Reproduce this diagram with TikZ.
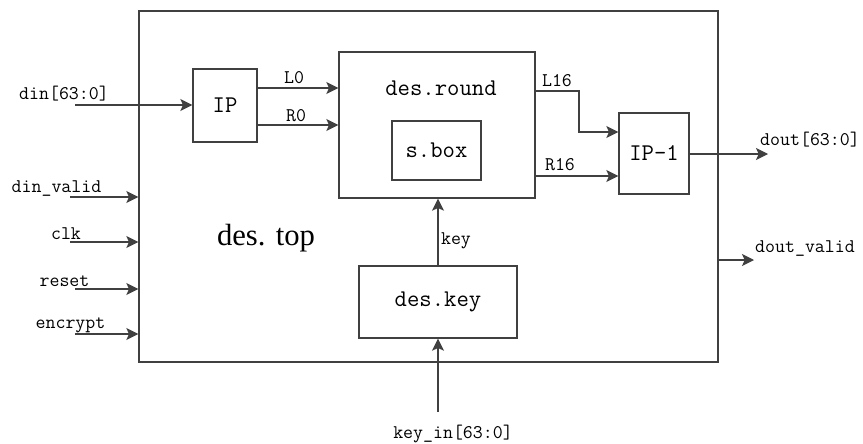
\documentclass[tikz,border=0pt]{standalone}
\usepackage{fontspec}
\setmainfont{Liberation Serif}
\usetikzlibrary{positioning,calc,arrows.meta}
\tikzset{block layout/.style={%
    y=-0.75pt,
    x=0.75pt,
    every node/.style={%
        text=black, inner sep=0pt
    },
    every path/.style={%
        black!75, line width=1pt
    }
}}
\tikzset{unit/.style={%
    draw, rectangle, font=\ttfamily\fontsize{18}{20}\selectfont
}}
\tikzset{unit text/.style={%
    font=\ttfamily\fontsize{18}{20}\selectfont
}}
\tikzset{sig text/.style={%
    anchor=base, font=\ttfamily\fontsize{14.5}{16}\selectfont
}}
\tikzset{sig/.style={%
    -{Stealth[length=9pt,width=9pt,inset=2pt]}
}}

\begin{document}
\begin{tikzpicture}[block layout]
    \useasboundingbox (0,0) rectangle (863,443);

    \node[unit, minimum width=434.25pt, minimum height=263.25pt] (top) at (428.5,186.5) {};
    \node[unit, minimum width=48pt, minimum height=54.75pt] (ip) at (225,105.5) {IP};
    \node[unit, minimum width=147pt, minimum height=109.5pt] (round) at (437,125) {};
    \node[unit, minimum width=66.75pt, minimum height=44.25pt] (sbox) at (436.5,150.5) {s.box};
    \node[unit, minimum width=52.5pt, minimum height=60.75pt] (ipinv) at (654,153.5) {IP-1};
    \node[unit, minimum width=118.5pt, minimum height=54pt] (key) at (438,302) {des.key};
    \node[unit text] (roundname) at (441,88) {des.round};
    \node[anchor=base, font=\rmfamily\fontsize{23}{26}\selectfont] (topname) at (266,245) {des. top};

    % plain input
    \coordinate (din) at (75,105);
    \node[sig text] (dinname) at (64,99) {din[63:0]};
    \draw[sig] (din) -- (ip.west |- din);

    % control inputs on the left edge
    \foreach \n/\y/\sx/\lx/\by/\txt in {%
        dv/197/70/56.5/192/din\_valid,
        clk/242/70/66/239/clk,
        rst/289/75/64.5/286/reset,
        enc/334/75/70.5/328/encrypt} {
        \coordinate (\n) at (\sx,\y);
        \node[sig text] (\n name) at (\lx,\by) {\txt};
        \draw[sig] (\n) -- (top.west |- \n);
    }

    % round halves
    \draw[sig] (ip.east |- 0,88) -- (round.west |- 0,88);
    \draw[sig] (ip.east |- 0,125) -- (round.west |- 0,125);
    \node[sig text] (lzero) at (294,83) {L0};
    \node[sig text] (rzero) at (296,121) {R0};

    \draw[sig] (round.east |- 0,91) -- (579,91) |- (ipinv.west |- 0,132);
    \draw[sig] (round.east |- 0,176) -- (ipinv.west |- 0,176);
    \node[sig text] (lsixteen) at (557,86) {L16};
    \node[sig text] (rsixteen) at (560,170) {R16};

    % outputs
    \coordinate (dout) at (768,154);
    \draw[sig] (ipinv.east |- dout) -- (dout);
    \node[sig text] (doutname) at (810,145) {dout[63:0]};

    \coordinate (dvout) at (754,260);
    \draw[sig] (top.east |- dvout) -- (dvout);
    \node[sig text] (dvoutname) at (805,252) {dout\_valid};

    % key schedule
    \draw[sig] (key.north) -- (round.south -| key.north);
    \node[sig text] (keyname) at (456,244) {key};

    \coordinate (kin) at (438,412);
    \draw[sig] (kin) -- (key.south);
    \node[sig text] (kinname) at (453,438) {key\_in[63:0]};
\end{tikzpicture}
\end{document}
